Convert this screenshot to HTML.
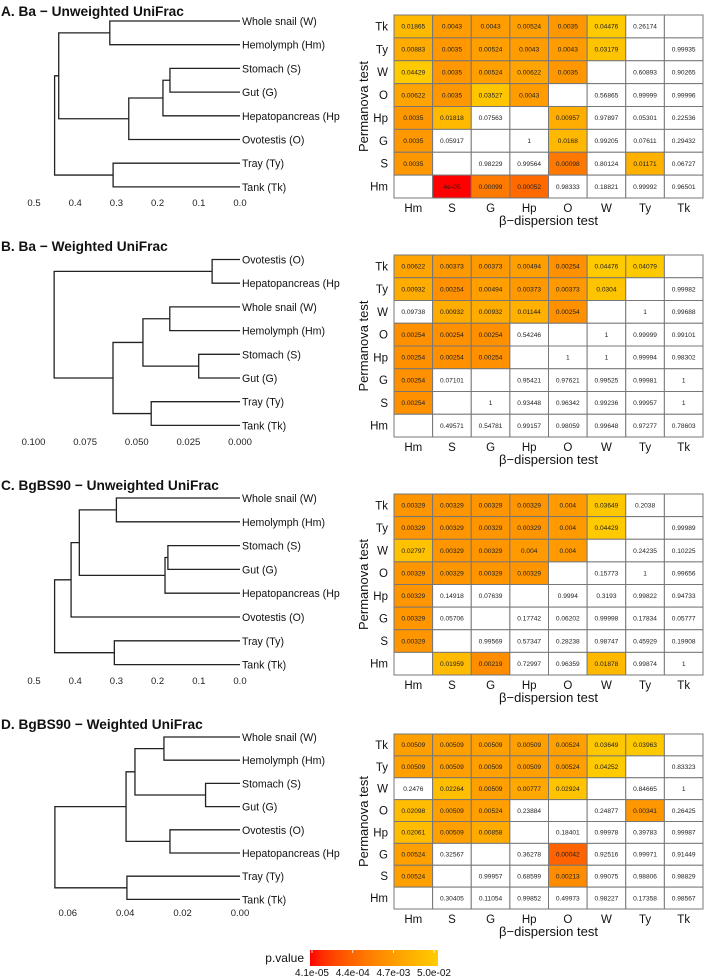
<!DOCTYPE html>
<html><head><meta charset="utf-8"><style>
html,body{margin:0;padding:0;background:#fff;}
svg{display:block;font-family:"Liberation Sans",sans-serif;}
</style></head><body>
<svg id="fig" width="704" height="979" viewBox="0 0 704 979"></svg>
<script>
const cols = ["Hm","S","G","Hp","O","W","Ty","Tk"];
const rows = ["Tk","Ty","W","O","Hp","G","S","Hm"];
const valsA = [
["0.01865","0.0043","0.0043","0.00524","0.0035","0.04476","0.26174",""],
["0.00883","0.0035","0.00524","0.0043","0.0043","0.03179","","0.99935"],
["0.04429","0.0035","0.00524","0.00622","0.0035","","0.60893","0.90265"],
["0.00622","0.0035","0.03527","0.0043","","0.56865","0.99999","0.99996"],
["0.0035","0.01818","0.07563","","0.00957","0.97897","0.05301","0.22536"],
["0.0035","0.05917","","1","0.0168","0.99205","0.07611","0.29432"],
["0.0035","","0.98229","0.99564","0.00098","0.80124","0.01171","0.06727"],
["","4e-05","0.00099","0.00052","0.98333","0.18821","0.99992","0.96501"]];
const valsB = [
["0.00622","0.00373","0.00373","0.00494","0.00254","0.04476","0.04079",""],
["0.00932","0.00254","0.00494","0.00373","0.00373","0.0304","","0.99982"],
["0.09738","0.00932","0.00932","0.01144","0.00254","","1","0.99688"],
["0.00254","0.00254","0.00254","0.54246","","1","0.99999","0.99101"],
["0.00254","0.00254","0.00254","","1","1","0.99994","0.98302"],
["0.00254","0.07101","","0.95421","0.97621","0.99525","0.99981","1"],
["0.00254","","1","0.93448","0.96342","0.99236","0.99957","1"],
["","0.49571","0.54781","0.99157","0.98059","0.99648","0.97277","0.78603"]];
const valsC = [
["0.00329","0.00329","0.00329","0.00329","0.004","0.03649","0.2038",""],
["0.00329","0.00329","0.00329","0.00329","0.004","0.04429","","0.99989"],
["0.02797","0.00329","0.00329","0.004","0.004","","0.24235","0.10225"],
["0.00329","0.00329","0.00329","0.00329","","0.15773","1","0.99656"],
["0.00329","0.14918","0.07639","","0.9994","0.3193","0.99822","0.94733"],
["0.00329","0.05706","","0.17742","0.06202","0.99998","0.17834","0.05777"],
["0.00329","","0.99569","0.57347","0.28238","0.98747","0.45929","0.19908"],
["","0.01959","0.00219","0.72997","0.96359","0.01878","0.99874","1"]];
const valsD = [
["0.00509","0.00509","0.00509","0.00509","0.00524","0.03649","0.03963",""],
["0.00509","0.00509","0.00509","0.00509","0.00524","0.04252","","0.83323"],
["0.2476","0.02264","0.00509","0.00777","0.02924","","0.84665","1"],
["0.02098","0.00509","0.00524","0.23884","","0.24877","0.00341","0.26425"],
["0.02061","0.00509","0.00858","","0.18401","0.99978","0.39783","0.99987"],
["0.00524","0.32567","","0.36278","0.00042","0.92516","0.99971","0.91449"],
["0.00524","","0.99957","0.68599","0.00213","0.99075","0.98806","0.98829"],
["","0.30405","0.11054","0.99852","0.49973","0.98227","0.17358","0.98567"]];
const legendTicks = ["4.1e-05","4.4e-04","4.7e-03","5.0e-02"];
const legendTickVals = [4.1e-5,4.4e-4,4.7e-3,5.0e-2];
const leavesA = ["Whole snail (W)","Hemolymph (Hm)","Stomach (S)","Gut (G)","Hepatopancreas (Hp)","Ovotestis (O)","Tray (Ty)","Tank (Tk)"];
const treeA = {h:0.45,l:{h:0.44,l:{h:0.316,l:0,r:1},r:{h:0.27,l:{h:0.187,l:{h:0.17,l:2,r:3},r:4},r:5}},r:{h:0.308,l:6,r:7}};
const leavesB = ["Ovotestis (O)","Hepatopancreas (Hp)","Whole snail (W)","Hemolymph (Hm)","Stomach (S)","Gut (G)","Tray (Ty)","Tank (Tk)"];
const treeB = {h:0.090,l:{h:0.0135,l:0,r:1},r:{h:0.0615,l:{h:0.047,l:{h:0.034,l:2,r:3},r:{h:0.020,l:4,r:5}},r:{h:0.043,l:6,r:7}}};
const leavesC = ["Whole snail (W)","Hemolymph (Hm)","Stomach (S)","Gut (G)","Hepatopancreas (Hp)","Ovotestis (O)","Tray (Ty)","Tank (Tk)"];
const treeC = {h:0.45,l:{h:0.41,l:{h:0.39,l:{h:0.30,l:0,r:1},r:{h:0.182,l:{h:0.175,l:2,r:3},r:4}},r:5},r:{h:0.305,l:6,r:7}};
const leavesD = ["Whole snail (W)","Hemolymph (Hm)","Stomach (S)","Gut (G)","Ovotestis (O)","Hepatopancreas (Hp)","Tray (Ty)","Tank (Tk)"];
const treeD = {h:0.0645,l:{h:0.0397,l:{h:0.0366,l:{h:0.0265,l:0,r:1},r:{h:0.012,l:2,r:3}},r:{h:0.0244,l:4,r:5}},r:{h:0.0394,l:6,r:7}};
const ticksAC = ["0.5","0.4","0.3","0.2","0.1","0.0"];
const ticksB = ["0.100","0.075","0.050","0.025","0.000"];
const ticksD = ["0.06","0.04","0.02","0.00"];

const NS="http://www.w3.org/2000/svg";
const svg=document.getElementById('fig');
function mk(tag,attrs,parent,text){const e=document.createElementNS(NS,tag);for(const k in attrs)e.setAttribute(k,attrs[k]);if(text!==undefined)e.textContent=text;(parent||svg).appendChild(e);return e;}
const LMIN=Math.log(4.1e-5),LMAX=Math.log(5.0e-2);
function pColor(p){let t=(Math.log(p)-LMIN)/(LMAX-LMIN);t=Math.max(0,Math.min(1,t));const g=Math.round(205*Math.pow(t,0.65));return `rgb(255,${g},0)`;}

const defs=mk('defs',{},svg);
const cp=mk('clipPath',{id:'dclip'},defs);
mk('rect',{x:0,y:0,width:340,height:979},cp);

const panels=[
 {title:"A. Ba \u2212 Unweighted UniFrac",ty:16,vals:valsA,hx:394,hy:15,hb:198,leaves:leavesA,tree:treeA,ly:21,ls:23.7,scale:412,ticks:ticksAC,tickY:206},
 {title:"B. Ba \u2212 Weighted UniFrac",ty:251,vals:valsB,hx:394,hy:255,hb:437,leaves:leavesB,tree:treeB,ly:259.5,ls:23.7,scale:2065,ticks:ticksB,tickY:445},
 {title:"C. BgBS90 \u2212 Unweighted UniFrac",ty:490,vals:valsC,hx:394,hy:494,hb:675,leaves:leavesC,tree:treeC,ly:498,ls:23.8,scale:412,ticks:ticksAC,tickY:684},
 {title:"D. BgBS90 \u2212 Weighted UniFrac",ty:729,vals:valsD,hx:394,hy:734,hb:909,leaves:leavesD,tree:treeD,ly:737,ls:23.2,scale:2870,ticks:ticksD,tickY:916}
];
const X0=240;
panels.forEach((P,pi)=>{
  const g=mk('g',{});
  
  
  const t=mk('text',{x:1,y:P.ty,'font-size':13.7,'font-weight':'bold',fill:'#111'},g,P.title);
  
  
  const dg=mk('g',{stroke:'#222','stroke-width':1.3,fill:'none'},g);
  
  
  function sx(h){return X0-h*P.scale;}
  function draw(n){
    if(typeof n==='number')return {x:X0,y:P.ly+n*P.ls};
    const a=draw(n.l),b=draw(n.r),x=sx(n.h);
    const p=mk('path',{d:`M${a.x},${a.y}H${x}V${b.y}H${b.x}`},dg);
    
    
    return {x:x,y:(a.y+b.y)/2};
  }
  draw(P.tree);
  const lgp=mk('g',{'clip-path':'url(#dclip)'},g);
  P.leaves.forEach((name,i)=>{
    const e=mk('text',{x:X0+2,y:P.ly+i*P.ls+4,'font-size':10.6,fill:'#111'},lgp,name);
    
    
  });
  P.ticks.forEach(tk=>{
    const e=mk('text',{x:sx(parseFloat(tk)),y:P.tickY,'font-size':9.5,'text-anchor':'middle',fill:'#222'},g,tk);
    
    
  });
  const cw=(703-P.hx)/8, rh=(P.hb-P.hy)/8;
  const hg=mk('g',{},g);
  
  
  P.vals.forEach((row,r)=>{
    row.forEach((v,c)=>{
      const x=P.hx+c*cw,y=P.hy+r*rh;
      let fill='#fff';
      if(v!==''&&parseFloat(v)<0.05)fill=pColor(parseFloat(v));
      const rc=mk('rect',{x:x,y:y,width:cw,height:rh,fill:fill,stroke:'#777','stroke-width':1},hg);
      
      
      if(v!==''){
        const tx=mk('text',{x:x+cw/2,y:y+rh/2+2.3,'font-size':6.6,'text-anchor':'middle',fill:'#222'},hg,v);
        
        
      }
    });
  });
  rows.forEach((r,i)=>{
    const e=mk('text',{x:P.hx-6,y:P.hy+(i+0.5)*rh+4,'font-size':11.5,'text-anchor':'end',fill:'#111'},g,r);
    
    
  });
  cols.forEach((c,i)=>{
    const e=mk('text',{x:P.hx+(i+0.5)*cw,y:P.hb+14,'font-size':11.5,'text-anchor':'middle',fill:'#111'},g,c);
    
    
  });
  const xt=mk('text',{x:P.hx+(703-P.hx)/2,y:P.hb+27,'font-size':13,'text-anchor':'middle',fill:'#111'},g,"\u03B2\u2212dispersion test");
  
  
  const cy=(P.hy+P.hb)/2;
  const yt=mk('text',{x:368,y:cy,'font-size':13,'text-anchor':'middle',fill:'#111',transform:`rotate(-90 368 ${cy})`},g,"Permanova test");
  
  
});
const lg=mk('g',{});


const grad=mk('linearGradient',{id:'pg',x1:0,x2:1,y1:0,y2:0},defs);
for(let i=0;i<=10;i++){const t=i/10;const p=Math.exp(LMIN+t*(LMAX-LMIN));mk('stop',{offset:t,'stop-color':pColor(p)},grad);}
const LX0=310,LX1=438;
const lb=mk('rect',{x:LX0,y:950,width:LX1-LX0,height:16,fill:'url(#pg)'},lg);


const lt=mk('text',{x:304,y:962,'font-size':12,'text-anchor':'end',fill:'#111'},lg,'p.value');


legendTicks.forEach((s,i)=>{
  const x=LX0+2+(Math.log(legendTickVals[i])-LMIN)/(LMAX-LMIN)*(LX1-LX0-6);
  const tl=mk('line',{x1:x,x2:x,y1:950,y2:953,stroke:'#fff','stroke-width':0.8},lg);
  
  
  const e=mk('text',{x:x,y:976,'font-size':10,'text-anchor':'middle',fill:'#111'},lg,s);
  
  
});
</script>
</body></html>
